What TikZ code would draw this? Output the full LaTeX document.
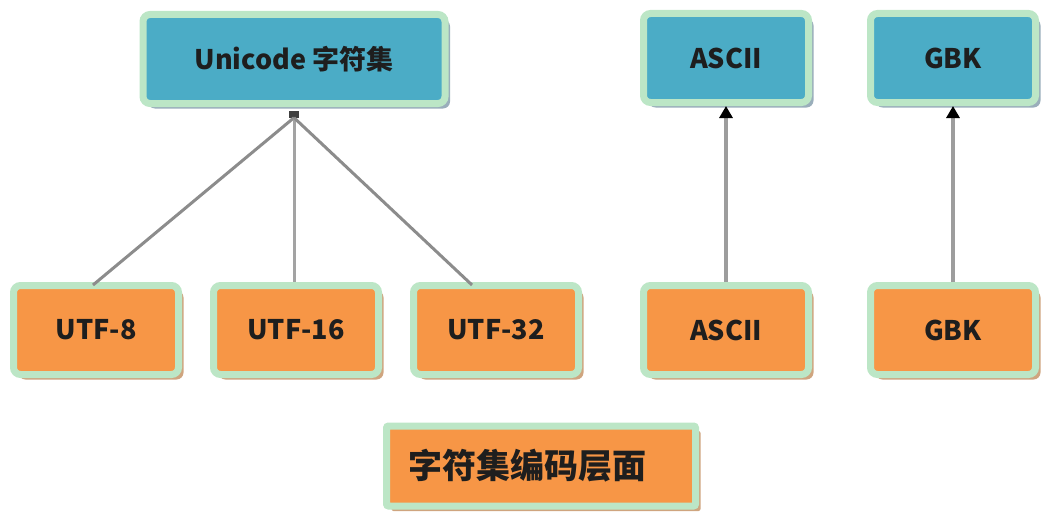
\documentclass[tikz,border=0pt]{standalone}
\usepackage{fontspec}
\setmainfont{Noto Sans CJK SC}
\usetikzlibrary{arrows.meta,shadows}
\definecolor{boxblue}{HTML}{4BACC6}
\definecolor{boxorange}{HTML}{F79646}
\definecolor{rimgreen}{HTML}{BCE6C6}
\definecolor{shblue}{HTML}{9AAEBB}
\definecolor{shorange}{HTML}{CFA57F}
\definecolor{linkgray}{HTML}{8C8C8C}
\definecolor{txtdark}{HTML}{1E1E1E}
\tikzset{
  boxbase/.style={rounded corners=7pt, draw=rimgreen, line width=7pt,
    minimum height=89pt, text=txtdark, inner sep=0pt,
    font=\fontsize{27}{30}\selectfont\bfseries},
  topbox/.style={boxbase, fill=boxblue, minimum width=165pt,
    drop shadow={shadow xshift=5pt, shadow yshift=-5pt, fill=shblue, opacity=1}},
  botbox/.style={boxbase, fill=boxorange, minimum width=165pt,
    drop shadow={shadow xshift=5pt, shadow yshift=-5pt, fill=shorange, opacity=1}},
  link/.style={draw=linkgray, line width=3pt},
  uplink/.style={draw=linkgray!85, line width=3.2pt, -{Triangle[width=13pt,length=12pt,color=black]}},
}
\begin{document}
\begin{tikzpicture}[x=1pt,y=-1pt]
\useasboundingbox (0,0) rectangle (1056,519);
\node[topbox, minimum width=302pt] (uni) at (294,59) {Unicode 字符集};
\node[topbox] (asciitop) at (726,58) {ASCII};
\node[topbox] (gbktop) at (953,58) {GBK};
\node[botbox] (utf8) at (96,330) {UTF-8};
\node[botbox] (utf16) at (296,330) {UTF-16};
\node[botbox] (utf32) at (496,330) {UTF-32};
\node[botbox] (asciibot) at (726,330) {ASCII};
\node[botbox] (gbkbot) at (953,330) {GBK};
\node[botbox, rounded corners=2pt, minimum width=309pt, minimum height=80pt,
  font=\fontsize{34}{37}\selectfont\bfseries, text width=265pt, align=left] (legend) at (541,466) {字符集编码层面};
\node[fill=black!75, minimum width=10pt, minimum height=7pt, inner sep=0pt] (hub) at (294,114) {};
\coordinate (u8top) at (93,285);
\coordinate (u32top) at (472,285);
\draw[link] (hub.south) -- (u8top);
\draw[link, draw=linkgray!80] (hub.south) -- (utf16.north -| hub.south);
\draw[link] (hub.south) -- (u32top);
\draw[uplink] (asciibot.north) -- (asciitop.south);
\draw[uplink] (gbkbot.north) -- (gbktop.south);
\end{tikzpicture}
\end{document}
